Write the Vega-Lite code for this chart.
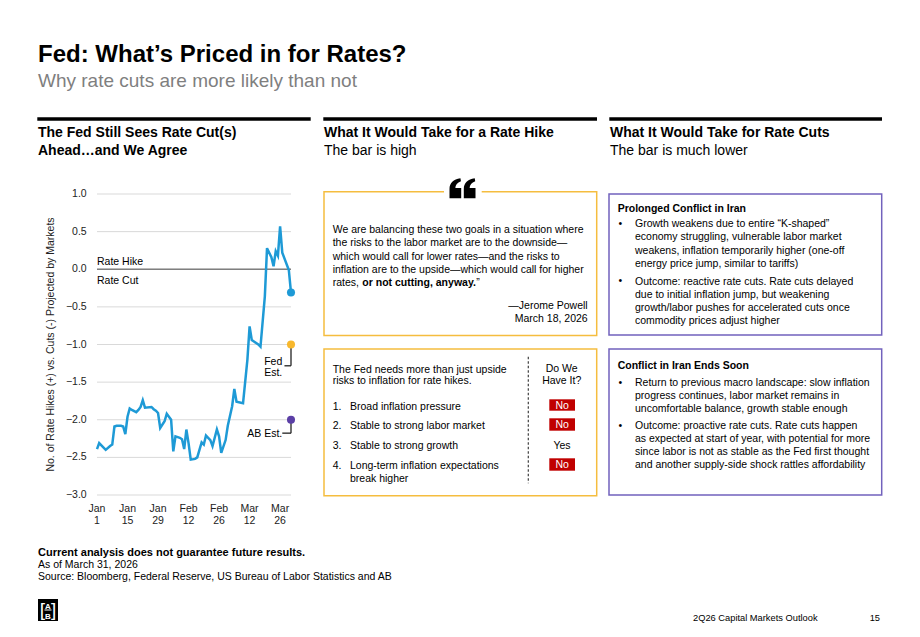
{
"$schema": "https://vega.github.io/schema/vega-lite/v6.json",
"width": 920, "height": 637, "autosize": "none", "padding": 0, "background": "white",
"config": {"view": {"stroke": null}, "font": "Liberation Sans",
  "text": {"baseline": "alphabetic", "align": "left", "fontSize": 10.5, "color": "#000000", "lineHeight": 13.4}},
"datasets": {
 "series": [
  {"date":"2026-01-01","value":-2.39},{"date":"2026-01-02","value":-2.31},{"date":"2026-01-05","value":-2.40},
  {"date":"2026-01-07","value":-2.35},{"date":"2026-01-08","value":-2.33},{"date":"2026-01-09","value":-2.09},
  {"date":"2026-01-10","value":-2.08},{"date":"2026-01-12","value":-2.08},{"date":"2026-01-13","value":-2.09},
  {"date":"2026-01-14","value":-2.19},{"date":"2026-01-15","value":-1.96},{"date":"2026-01-16","value":-1.85},
  {"date":"2026-01-17","value":-1.87},{"date":"2026-01-19","value":-1.90},{"date":"2026-01-20","value":-1.87},
  {"date":"2026-01-21","value":-1.83},{"date":"2026-01-22","value":-1.74},{"date":"2026-01-23","value":-1.84},
  {"date":"2026-01-26","value":-1.83},{"date":"2026-01-27","value":-1.86},{"date":"2026-01-28","value":-1.88},
  {"date":"2026-01-29","value":-1.91},{"date":"2026-01-30","value":-2.11},{"date":"2026-02-01","value":-2.02},
  {"date":"2026-02-02","value":-1.92},{"date":"2026-02-03","value":-1.96},{"date":"2026-02-04","value":-2.00},
  {"date":"2026-02-05","value":-2.42},{"date":"2026-02-06","value":-2.22},{"date":"2026-02-08","value":-2.24},
  {"date":"2026-02-09","value":-2.26},{"date":"2026-02-10","value":-2.39},{"date":"2026-02-11","value":-2.13},
  {"date":"2026-02-12","value":-2.31},{"date":"2026-02-13","value":-2.53},{"date":"2026-02-15","value":-2.52},
  {"date":"2026-02-16","value":-2.50},{"date":"2026-02-17","value":-2.40},{"date":"2026-02-18","value":-2.30},
  {"date":"2026-02-19","value":-2.33},{"date":"2026-02-20","value":-2.21},{"date":"2026-02-22","value":-2.27},
  {"date":"2026-02-23","value":-2.35},{"date":"2026-02-25","value":-2.13},{"date":"2026-02-26","value":-2.22},
  {"date":"2026-02-27","value":-2.44},{"date":"2026-03-01","value":-2.27},{"date":"2026-03-02","value":-2.08},
  {"date":"2026-03-04","value":-1.82},{"date":"2026-03-05","value":-1.59},{"date":"2026-03-06","value":-1.76},
  {"date":"2026-03-09","value":-1.78},{"date":"2026-03-11","value":-1.20},{"date":"2026-03-12","value":-0.76},
  {"date":"2026-03-13","value":-0.94},{"date":"2026-03-14","value":-0.96},{"date":"2026-03-16","value":-1.00},
  {"date":"2026-03-17","value":-1.03},{"date":"2026-03-19","value":-0.36},{"date":"2026-03-20","value":0.28},
  {"date":"2026-03-22","value":0.16},{"date":"2026-03-23","value":0.04},{"date":"2026-03-24","value":0.24},
  {"date":"2026-03-25","value":0.18},{"date":"2026-03-26","value":0.57},{"date":"2026-03-27","value":0.22},
  {"date":"2026-03-30","value":-0.01},{"date":"2026-03-31","value":-0.31}
 ],
 "markers": [
  {"date":"2026-03-31","value":-0.31,"series":"Market"},
  {"date":"2026-03-31","value":-1.0,"series":"Fed Est."},
  {"date":"2026-03-31","value":-2.0,"series":"AB Est."}
 ],
 "ticks": [{"tick":-3},{"tick":-2.5},{"tick":-2},{"tick":-1.5},{"tick":-1},{"tick":-0.5},{"tick":0},{"tick":0.5},{"tick":1}],
 "xticks": [
  {"date":"2026-01-01","mon":"Jan","day":"1"},{"date":"2026-01-15","mon":"Jan","day":"15"},
  {"date":"2026-01-29","mon":"Jan","day":"29"},{"date":"2026-02-12","mon":"Feb","day":"12"},
  {"date":"2026-02-26","mon":"Feb","day":"26"},{"date":"2026-03-12","mon":"Mar","day":"12"},
  {"date":"2026-03-26","mon":"Mar","day":"26"}
 ]
},
"layer": [
 {
  "data": {"values": [{}]},
  "layer": [
   {"mark": {"type":"rule","strokeWidth":3.4,"color":"#000000"},
    "encoding": {"x":{"datum":37.3,"type":"quantitative","scale":{"domain":[0,920],"nice":false,"zero":false},"axis":null},"x2":{"datum":310.7},
                 "y":{"datum":119,"type":"quantitative","scale":{"domain":[0,637],"nice":false,"zero":false,"reverse":true},"axis":null}}},
   {"mark": {"type":"rule","strokeWidth":3.4,"color":"#000000"},
    "encoding": {"x":{"datum":323.3,"axis":null},"x2":{"datum":597},"y":{"datum":119,"axis":null}}},
   {"mark": {"type":"rule","strokeWidth":3.4,"color":"#000000"},
    "encoding": {"x":{"datum":609.3,"axis":null},"x2":{"datum":882},"y":{"datum":119,"axis":null}}},
   {"mark": {"type":"rect","filled":false,"color":"#f5bd3f","strokeWidth":1.5},
    "encoding": {"x":{"datum":324,"axis":null},"x2":{"datum":596.7},"y":{"datum":191.7,"axis":null},"y2":{"datum":335.5}}},
   {"mark": {"type":"rect","filled":false,"color":"#f5bd3f","strokeWidth":1.5},
    "encoding": {"x":{"datum":324,"axis":null},"x2":{"datum":596.7},"y":{"datum":349,"axis":null},"y2":{"datum":495.7}}},
   {"mark": {"type":"rect","filled":false,"color":"#7262bd","strokeWidth":1.5},
    "encoding": {"x":{"datum":609,"axis":null},"x2":{"datum":881.7},"y":{"datum":194,"axis":null},"y2":{"datum":335}}},
   {"mark": {"type":"rect","filled":false,"color":"#7262bd","strokeWidth":1.5},
    "encoding": {"x":{"datum":609,"axis":null},"x2":{"datum":881.7},"y":{"datum":349,"axis":null},"y2":{"datum":495}}},
   {"mark": {"type":"rect","color":"#ffffff"},
    "encoding": {"x":{"datum":444,"axis":null},"x2":{"datum":481.7},"y":{"datum":188,"axis":null},"y2":{"datum":195}}},
   {"mark": {"type":"point","filled":true,"color":"#000000","opacity":1,"size":676,"strokeWidth":0,
             "shape":"M -1 0.77 L -1 0.05 C -1 -0.4 -0.7 -0.68 -0.16 -0.77 L -0.12 -0.55 C -0.4 -0.45 -0.55 -0.25 -0.55 -0.02 L -0.1 -0.02 L -0.1 0.77 Z M 0.1 0.77 L 0.1 0.05 C 0.1 -0.4 0.4 -0.68 0.94 -0.77 L 0.98 -0.55 C 0.7 -0.45 0.55 -0.25 0.55 -0.02 L 1 -0.02 L 1 0.77 Z"},
    "encoding": {"x":{"datum":462.5,"axis":null},"y":{"datum":188.3,"axis":null}}},
   {"mark": {"type":"rect","color":"#c00000"},
    "encoding": {"x":{"datum":549.3,"axis":null},"x2":{"datum":575},"y":{"datum":399.3,"axis":null},"y2":{"datum":410.7}}},
   {"mark": {"type":"rect","color":"#c00000"},
    "encoding": {"x":{"datum":549.3,"axis":null},"x2":{"datum":575},"y":{"datum":418.3,"axis":null},"y2":{"datum":430.7}}},
   {"mark": {"type":"rect","color":"#c00000"},
    "encoding": {"x":{"datum":549.3,"axis":null},"x2":{"datum":575},"y":{"datum":458.3,"axis":null},"y2":{"datum":470.7}}},
   {"mark": {"type":"rule","color":"#404040","strokeWidth":1.2,"strokeDash":[2.5,2]},
    "encoding": {"x":{"datum":528.3,"axis":null},"y":{"datum":356.7,"axis":null},"y2":{"datum":483.3}}},
   {"mark": {"type":"rect","color":"#000000"},
    "encoding": {"x":{"datum":38,"axis":null},"x2":{"datum":58},"y":{"datum":599,"axis":null},"y2":{"datum":621}}},
   {"mark": {"type":"rule","color":"#ffffff","strokeWidth":1},
    "encoding": {"x":{"datum":44.5,"axis":null},"x2":{"datum":51.5},"y":{"datum":610,"axis":null}}},
   {"mark": {"type":"text","text":"Fed: What’s Priced in for Rates?","fontSize":24,"fontWeight":"bold"},
    "encoding": {"x":{"datum":38,"axis":null},"y":{"datum":62,"axis":null}}},
   {"mark": {"type":"text","text":"Why rate cuts are more likely than not","fontSize":19,"color":"#7f7f7f"},
    "encoding": {"x":{"datum":38,"axis":null},"y":{"datum":87.3,"axis":null}}},
   {"mark": {"type":"text","text":["The Fed Still Sees Rate Cut(s)","Ahead…and We Agree"],"fontSize":14,"fontWeight":"bold","lineHeight":17.7},
    "encoding": {"x":{"datum":38,"axis":null},"y":{"datum":137.3,"axis":null}}},
   {"mark": {"type":"text","text":"What It Would Take for a Rate Hike","fontSize":14,"fontWeight":"bold"},
    "encoding": {"x":{"datum":324,"axis":null},"y":{"datum":137.3,"axis":null}}},
   {"mark": {"type":"text","text":"The bar is high","fontSize":14},
    "encoding": {"x":{"datum":324,"axis":null},"y":{"datum":155,"axis":null}}},
   {"mark": {"type":"text","text":"What It Would Take for Rate Cuts","fontSize":14,"fontWeight":"bold"},
    "encoding": {"x":{"datum":610,"axis":null},"y":{"datum":137.3,"axis":null}}},
   {"mark": {"type":"text","text":"The bar is much lower","fontSize":14},
    "encoding": {"x":{"datum":610,"axis":null},"y":{"datum":155,"axis":null}}},
   {"mark": {"type":"text","text":"No. of Rate Hikes (+) vs. Cuts (-) Projected by Markets","angle":270,"align":"center","baseline":"middle","color":"#222222"},
    "encoding": {"x":{"datum":50.7,"axis":null},"y":{"datum":344.5,"axis":null}}},
   {"mark": {"type":"text","text":["We are balancing these two goals in a situation where","the risks to the labor market are to the downside—","which would call for lower rates—and the risks to","inflation are to the upside—which would call for higher","rates,"]},
    "encoding": {"x":{"datum":332.7,"axis":null},"y":{"datum":232.8,"axis":null}}},
   {"mark": {"type":"text","text":"or not cutting, anyway.","fontWeight":"bold"},
    "encoding": {"x":{"datum":362.3,"axis":null},"y":{"datum":286.4,"axis":null}}},
   {"mark": {"type":"text","text":"”"},
    "encoding": {"x":{"datum":476.3,"axis":null},"y":{"datum":286.4,"axis":null}}},
   {"mark": {"type":"text","text":["—Jerome Powell","March 18, 2026"],"align":"right","lineHeight":13.3},
    "encoding": {"x":{"datum":587.7,"axis":null},"y":{"datum":308.8,"axis":null}}},
   {"mark": {"type":"text","text":["The Fed needs more than just upside","risks to inflation for rate hikes."],"lineHeight":11.7},
    "encoding": {"x":{"datum":332.7,"axis":null},"y":{"datum":372.8,"axis":null}}},
   {"mark": {"type":"text","text":["1.","2.","3.","4."],"lineHeight":19.8},
    "encoding": {"x":{"datum":332.7,"axis":null},"y":{"datum":409.5,"axis":null}}},
   {"mark": {"type":"text","text":["Broad inflation pressure","Stable to strong labor market","Stable to strong growth","Long-term inflation expectations"],"lineHeight":19.8},
    "encoding": {"x":{"datum":350,"axis":null},"y":{"datum":409.5,"axis":null}}},
   {"mark": {"type":"text","text":"break higher"},
    "encoding": {"x":{"datum":350,"axis":null},"y":{"datum":481.5,"axis":null}}},
   {"mark": {"type":"text","text":["Do We","Have It?"],"align":"center","lineHeight":11.7},
    "encoding": {"x":{"datum":561.7,"axis":null},"y":{"datum":372.1,"axis":null}}},
   {"mark": {"type":"text","text":"No","align":"center","color":"#ffffff"},
    "encoding": {"x":{"datum":562.2,"axis":null},"y":{"datum":408.8,"axis":null}}},
   {"mark": {"type":"text","text":"No","align":"center","color":"#ffffff"},
    "encoding": {"x":{"datum":562.2,"axis":null},"y":{"datum":428.3,"axis":null}}},
   {"mark": {"type":"text","text":"No","align":"center","color":"#ffffff"},
    "encoding": {"x":{"datum":562.2,"axis":null},"y":{"datum":468.3,"axis":null}}},
   {"mark": {"type":"text","text":"Yes","align":"center"},
    "encoding": {"x":{"datum":562,"axis":null},"y":{"datum":448.8,"axis":null}}},
   {"mark": {"type":"text","text":"Prolonged Conflict in Iran","fontWeight":"bold"},
    "encoding": {"x":{"datum":617.7,"axis":null},"y":{"datum":212.1,"axis":null}}},
   {"mark": {"type":"text","text":["•","•"],"lineHeight":57.4},
    "encoding": {"x":{"datum":618.5,"axis":null},"y":{"datum":227.1,"axis":null}}},
   {"mark": {"type":"text","text":["Growth weakens due to entire “K-shaped”","economy struggling, vulnerable labor market","weakens, inflation temporarily higher (one-off","energy price jump, similar to tariffs)"]},
    "encoding": {"x":{"datum":635,"axis":null},"y":{"datum":227.1,"axis":null}}},
   {"mark": {"type":"text","text":["Outcome: reactive rate cuts. Rate cuts delayed","due to initial inflation jump, but weakening","growth/labor pushes for accelerated cuts once","commodity prices adjust higher"],"lineHeight":13.2},
    "encoding": {"x":{"datum":635,"axis":null},"y":{"datum":284.5,"axis":null}}},
   {"mark": {"type":"text","text":"Conflict in Iran Ends Soon","fontWeight":"bold"},
    "encoding": {"x":{"datum":617.7,"axis":null},"y":{"datum":368.8,"axis":null}}},
   {"mark": {"type":"text","text":["•","•"],"lineHeight":43.3},
    "encoding": {"x":{"datum":618.5,"axis":null},"y":{"datum":385.5,"axis":null}}},
   {"mark": {"type":"text","text":["Return to previous macro landscape: slow inflation","progress continues, labor market remains in","uncomfortable balance, growth stable enough"],"lineHeight":13.3},
    "encoding": {"x":{"datum":635,"axis":null},"y":{"datum":385.5,"axis":null}}},
   {"mark": {"type":"text","text":["Outcome: proactive rate cuts. Rate cuts happen","as expected at start of year, with potential for more","since labor is not as stable as the Fed first thought","and another supply-side shock rattles affordability"],"lineHeight":13},
    "encoding": {"x":{"datum":635,"axis":null},"y":{"datum":428.8,"axis":null}}},
   {"mark": {"type":"text","text":"Current analysis does not guarantee future results.","fontWeight":"bold","fontSize":11},
    "encoding": {"x":{"datum":38,"axis":null},"y":{"datum":555.5,"axis":null}}},
   {"mark": {"type":"text","text":["As of March 31, 2026","Source: Bloomberg, Federal Reserve, US Bureau of Labor Statistics and AB"],"lineHeight":12.4},
    "encoding": {"x":{"datum":38,"axis":null},"y":{"datum":568.1,"axis":null}}},
   {"mark": {"type":"text","text":"A","fontSize":8,"fontWeight":"bold","color":"#ffffff","align":"center"},
    "encoding": {"x":{"datum":48,"axis":null},"y":{"datum":608.5,"axis":null}}},
   {"mark": {"type":"text","text":"B","fontSize":8,"fontWeight":"bold","color":"#ffffff","align":"center"},
    "encoding": {"x":{"datum":48,"axis":null},"y":{"datum":618.5,"axis":null}}},
   {"mark": {"type":"text","text":"[","fontSize":19,"color":"#ffffff","align":"center"},
    "encoding": {"x":{"datum":42.3,"axis":null},"y":{"datum":616,"axis":null}}},
   {"mark": {"type":"text","text":"]","fontSize":19,"color":"#ffffff","align":"center"},
    "encoding": {"x":{"datum":53.7,"axis":null},"y":{"datum":616,"axis":null}}},
   {"mark": {"type":"text","text":"2Q26 Capital Markets Outlook","fontSize":9.3},
    "encoding": {"x":{"datum":693,"axis":null},"y":{"datum":620.5,"axis":null}}},
   {"mark": {"type":"text","text":"15","fontSize":9.3,"align":"right"},
    "encoding": {"x":{"datum":880,"axis":null},"y":{"datum":620.5,"axis":null}}}
  ]
 },
 {
  "layer": [
   {"data": {"name": "ticks"},
    "mark": {"type":"rule","color":"#d9d9d9","strokeWidth":1},
    "encoding": {"y":{"field":"tick","type":"quantitative","axis":null},
                 "x":{"datum":{"year":2026,"month":1,"date":1,"utc":true},"type":"temporal","axis":null},
                 "x2":{"datum":{"year":2026,"month":3,"date":31,"utc":true}}}},
   {"data": {"name": "ticks"},
    "mark": {"type":"text","align":"right","baseline":"middle","dx":-10.3,"color":"#222222","fontSize":10.5},
    "encoding": {"y":{"field":"tick","type":"quantitative","axis":null},
                 "x":{"datum":{"year":2026,"month":1,"date":1,"utc":true},"type":"temporal","axis":null},
                 "text":{"field":"tick","type":"quantitative","format":".1f"}}},
   {"data": {"name": "xticks"},
    "mark": {"type":"text","align":"center","dy":16.5,"color":"#222222","fontSize":10.5},
    "encoding": {"x":{"field":"date","type":"temporal","axis":null},
                 "y":{"datum":-3,"type":"quantitative","axis":null},
                 "text":{"field":"mon","type":"nominal"}}},
   {"data": {"name": "xticks"},
    "mark": {"type":"text","align":"center","dy":28.8,"color":"#222222","fontSize":10.5},
    "encoding": {"x":{"field":"date","type":"temporal","axis":null},
                 "y":{"datum":-3,"type":"quantitative","axis":null},
                 "text":{"field":"day","type":"nominal"}}},
   {"data": {"values": [{}]},
    "mark": {"type":"rule","color":"#7f7f7f","strokeWidth":1.4},
    "encoding": {"y":{"datum":0,"type":"quantitative","axis":null},
                 "x":{"datum":{"year":2026,"month":1,"date":1,"utc":true},"type":"temporal","axis":null},
                 "x2":{"datum":{"year":2026,"month":3,"date":31,"utc":true}}}},
   {"data": {"name": "series"},
    "mark": {"type":"line","color":"#1e9ad6","strokeWidth":2.5},
    "encoding": {
      "x":{"field":"date","type":"temporal",
           "scale":{"type":"utc","domain":[{"year":2026,"month":1,"date":1,"utc":true},{"year":2026,"month":3,"date":31,"utc":true}],"range":[97,291],"nice":false},
           "axis":null},
      "y":{"field":"value","type":"quantitative",
           "scale":{"domain":[-3,1],"range":[495,194],"nice":false,"zero":false},
           "axis":null}}},
   {"data": {"values": [{}]},
    "layer": [
     {"mark": {"type":"rule","color":"#222222","strokeWidth":1.3},
      "encoding": {"x":{"datum":{"year":2026,"month":3,"date":31,"utc":true},"type":"temporal","axis":null},
                   "y":{"datum":-1.0,"type":"quantitative","axis":null},"y2":{"datum":-1.283}}},
     {"mark": {"type":"rule","color":"#222222","strokeWidth":1.3},
      "encoding": {"x":{"datum":{"year":2026,"month":3,"date":28,"utc":true},"type":"temporal","axis":null},
                   "x2":{"datum":{"year":2026,"month":3,"date":31,"utc":true}},
                   "y":{"datum":-1.283,"type":"quantitative","axis":null}}},
     {"mark": {"type":"rule","color":"#222222","strokeWidth":1.3},
      "encoding": {"x":{"datum":{"year":2026,"month":3,"date":31,"utc":true},"type":"temporal","axis":null},
                   "y":{"datum":-2.0,"type":"quantitative","axis":null},"y2":{"datum":-2.178}}},
     {"mark": {"type":"rule","color":"#222222","strokeWidth":1.3},
      "encoding": {"x":{"datum":{"year":2026,"month":3,"date":27,"utc":true},"type":"temporal","axis":null},
                   "x2":{"datum":{"year":2026,"month":3,"date":31,"utc":true}},
                   "y":{"datum":-2.178,"type":"quantitative","axis":null}}},
     {"mark": {"type":"text","text":"Rate Hike","fontSize":10.5},
      "encoding": {"x":{"datum":{"year":2026,"month":1,"date":1,"utc":true},"type":"temporal","axis":null},
                   "y":{"datum":0.053,"type":"quantitative","axis":null}}},
     {"mark": {"type":"text","text":"Rate Cut","fontSize":10.5},
      "encoding": {"x":{"datum":{"year":2026,"month":1,"date":1,"utc":true},"type":"temporal","axis":null},
                   "y":{"datum":-0.19,"type":"quantitative","axis":null}}},
     {"mark": {"type":"text","text":["Fed","Est."],"fontSize":10.5,"align":"right","lineHeight":11.7},
      "encoding": {"x":{"datum":{"year":2026,"month":3,"date":27,"utc":true},"type":"temporal","axis":null},
                   "y":{"datum":-1.267,"type":"quantitative","axis":null}}},
     {"mark": {"type":"text","text":"AB Est.","fontSize":10.5,"align":"right"},
      "encoding": {"x":{"datum":{"year":2026,"month":3,"date":27,"utc":true},"type":"temporal","axis":null},
                   "y":{"datum":-2.229,"type":"quantitative","axis":null}}}
    ]},
   {"data": {"name": "markers"},
    "mark": {"type":"point","filled":true,"size":65,"opacity":1},
    "encoding": {"x":{"field":"date","type":"temporal","axis":null},
                 "y":{"field":"value","type":"quantitative","axis":null},
                 "color":{"field":"series","type":"nominal","scale":{"domain":["Market","Fed Est.","AB Est."],"range":["#1e9ad6","#f8b82d","#5b3fa6"]},"legend":null}}}
  ]
 }
],
"resolve": {"scale": {"x":"independent","y":"independent"}, "axis": {"x":"independent","y":"independent"}}
}
